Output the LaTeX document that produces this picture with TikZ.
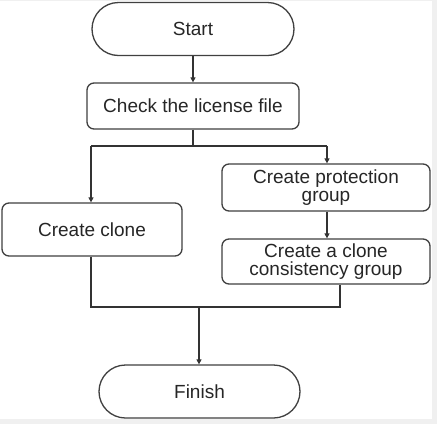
\documentclass[tikz,border=0pt]{standalone}
\usepackage{fontspec}
\setmainfont{Liberation Sans}
\usetikzlibrary{arrows.meta,shapes.misc}
\begin{document}
\begin{tikzpicture}[x=1pt,y=-1pt,
  every node/.style={font=\fontsize{19}{18.5}\selectfont, text=black!85},
  stadium/.style={draw=black!75, line width=1.3pt, rounded rectangle, minimum width=202pt, minimum height=53pt, inner sep=0pt},
  procbox/.style={draw=black!75, line width=1.3pt, rounded corners=7pt, inner sep=0pt, align=center},
  conn/.style={draw=black!80, line width=1.3pt},
  arr/.style={conn, -{Triangle[length=5pt,width=5pt]}}]
\useasboundingbox (0,0) rectangle (437,424);
\fill[black!6] (0,0) rectangle (437,424);
\fill[white] (0,1) rectangle (432,419);
\node[stadium] (start) at (193,29) {Start};
\node[procbox, minimum width=212pt, minimum height=46pt] (check) at (193,106) {Check the license file};
\node[procbox, minimum width=180pt, minimum height=53pt] (clone) at (92,229.5) {Create clone};
\node[procbox, minimum width=208pt, minimum height=47pt] (prot) at (326,187.5) {Create protection\\group};
\node[procbox, minimum width=208pt, minimum height=45pt] (cons) at (326,261.5) {Create a clone\\consistency group};
\node[stadium, minimum width=201pt] (finish) at (199.5,391.5) {Finish};
\coordinate (split) at (193,146);
\coordinate (splitL) at (91,146);
\coordinate (splitR) at (327,146);
\coordinate (joinL) at (91,307);
\coordinate (joinR) at (340,307);
\coordinate (joinM) at (199,307);
\draw[arr] (start.south) -- (check.north);
\draw[conn] (check.south) -- (split);
\draw[conn] (splitL) -- (splitR);
\draw[arr] (splitL) -- (splitL |- clone.north);
\draw[arr] (splitR) -- (splitR |- prot.north);
\draw[arr] (prot.south -| splitR) -- (cons.north -| splitR);
\draw[conn] (joinL |- clone.south) -- (joinL) -- (joinR) -- (joinR |- cons.south);
\draw[arr] (joinM) -- (joinM |- finish.north);
\end{tikzpicture}
\end{document}
